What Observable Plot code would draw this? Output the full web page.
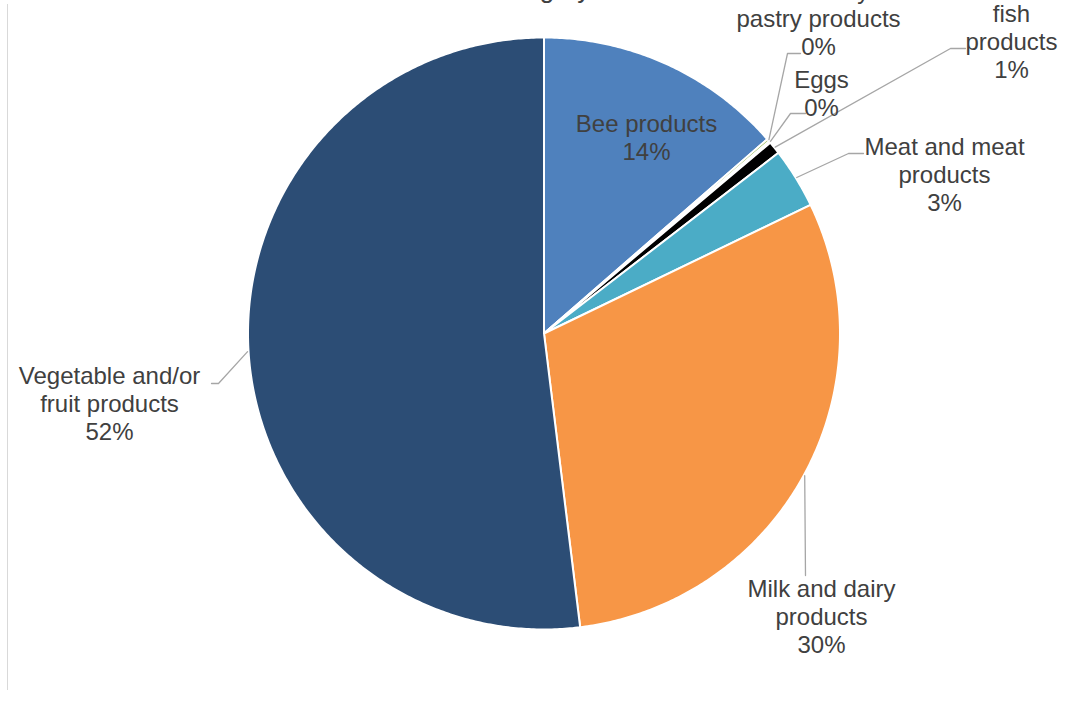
<!DOCTYPE html>
<html><head><meta charset="utf-8">
<script src="https://cdn.jsdelivr.net/npm/d3@7"></script>
<script src="https://cdn.jsdelivr.net/npm/@observablehq/plot@0.6"></script>
<style>
html,body{margin:0;padding:0;background:#fff;}
#wrap{position:relative;width:1066px;height:705px;overflow:hidden;}
#frame{position:absolute;left:7px;top:4px;height:686px;border-left:1.5px solid #d9d9d9;}
#chart{position:absolute;left:0;top:0;}
</style></head><body>
<div id="wrap"><div id="frame"></div><div id="chart"></div></div>
<script>
// ---- data ----
const categories = ["Bee products", "Confectionery and pastry products", "Eggs", "Fish and fish products", "Meat and meat products", "Milk and dairy products", "Vegetable and/or fruit products"];
const labelLines = ["Bee products", "Confectionery and\npastry products", "Eggs", "Fish and\nfish\nproducts", "Meat and meat\nproducts", "Milk and dairy\nproducts", "Vegetable and/or\nfruit products"];
const shares = [13.6, 0.15, 0.1, 0.7, 3.3, 30.2, 51.95];
const sliceColors = ["#4F81BD", "#9BBB59", "#FFC000", "#000000", "#4BACC6", "#F79646", "#2C4D75"];
const titleText = "category";

// ---- layout (pixels) ----
const W = 1066, H = 705;
const pieLayout = {cx: 543.5, cy: 333, r: 296};
const labelLayout = [
  {x: 646, y: 137, leader: null},
  {x: 818, y: 18, leader: [[787, 53], [800, 53]]},
  {x: 821, y: 93, leader: [[790, 113], [805, 113]]},
  {x: 1011, y: 27, leader: [[950, 48], [965, 48]]},
  {x: 944, y: 174, leader: [[848, 153], [863, 153]]},
  {x: 821, y: 616, leader: [[805, 575]]},
  {x: 109, y: 403, leader: [[218, 383], [211, 383]]}
];

const rows = categories.map((c, i) => ({name: c, share: shares[i], color: sliceColors[i], label: labelLines[i], pos: labelLayout[i]}));
const arcs = d3.pie().sort(null).value(d => d.share)(rows);
const {cx, cy, r} = pieLayout;
const pt = (a, rad) => ({x: cx + rad * Math.sin(a), y: cy - rad * Math.cos(a)});

const sliceMarks = arcs.map(a => {
  const pts = [{x: cx, y: cy}];
  const n = Math.max(2, Math.ceil((a.endAngle - a.startAngle) / (Math.PI / 360)));
  for (let k = 0; k <= n; k++) pts.push(pt(a.startAngle + (a.endAngle - a.startAngle) * k / n, r));
  pts.push({x: cx, y: cy});
  return Plot.line(pts, {x: "x", y: "y", fill: a.data.color, stroke: "white", strokeWidth: 2, strokeLinejoin: "round"});
});

const leaderMarks = arcs.filter(a => a.data.pos.leader).map(a => {
  const mid = (a.startAngle + a.endAngle) / 2;
  const pts = [pt(mid, r + 1), ...a.data.pos.leader.map(([x, y]) => ({x, y}))];
  return Plot.line(pts, {x: "x", y: "y", stroke: "#A6A6A6", strokeWidth: 1.3});
});

const labelRows = arcs.map(a => ({x: a.data.pos.x, y: a.data.pos.y, text: a.data.label + "\n" + Math.round(a.data.share) + "%"}));

const chart = Plot.plot({
  width: W, height: H, margin: 0,
  x: {domain: [0, W], range: [0, W], axis: null},
  y: {domain: [0, H], range: [0, H], axis: null},
  style: {fontFamily: "'Liberation Sans', Arial, sans-serif", background: "transparent"},
  marks: [
    ...sliceMarks,
    ...leaderMarks,
    Plot.text(labelRows, {x: "x", y: "y", text: "text", fontSize: 24, fill: "#404040", lineHeight: 1.167, lineAnchor: "middle"}),
    Plot.text([titleText], {x: () => 540, y: () => -11, text: d => d, fontSize: 26, fill: "#404040", lineAnchor: "middle"})
  ]
});
document.getElementById("chart").appendChild(chart);
</script>
</body></html>
